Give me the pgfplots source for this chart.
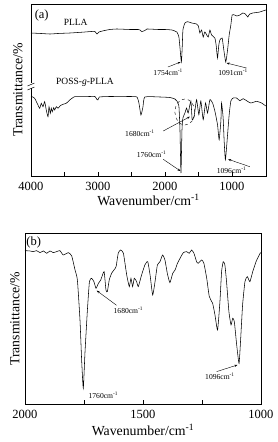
\documentclass[border=0pt]{standalone}
\usepackage{pgfplots}
\pgfplotsset{compat=1.18}
\usepackage{fontspec}
\setmainfont{Liberation Serif}
\usetikzlibrary{arrows.meta}
\tikzset{
  ann/.style={font=\fontsize{7.6}{9}\selectfont, inner sep=0pt},
  arr/.style={-{Stealth[length=3pt,width=2.2pt]}, line width=0.4pt},
}
\newcommand{\tkfont}{\fontsize{12.5}{14}\selectfont}
\newcommand{\lbfont}{\fontsize{13.8}{16}\selectfont}
\begin{document}
\begin{tikzpicture}
\useasboundingbox (0,0) rectangle (278pt,442pt);
\pgfplotsset{
  ftir/.style={
    scale only axis, x dir=reverse, clip=false,
    axis line style={line width=0.6pt},
    ytick=\empty, xtick pos=bottom,
    tick style={line width=0.5pt, black},
    major tick length=4pt, minor tick length=4pt,
    minor x tick num=1,
    /pgf/number format/assume math mode=true,
    /pgf/number format/set thousands separator={},
    tick label style={font=\tkfont},
  },
  curve/.style={black, line width=0.55pt, mark=none, smooth, tension=0.3},
}
% ---------- panel (a) ----------
\begin{axis}[ftir,
  at={(31pt,266pt)}, anchor=south west,
  width=235pt, height=172pt,
  xmin=490, xmax=4000, ymin=-176, ymax=-4,
  xtick={4000,3000,2000,1000},
  xticklabel style={yshift=-3pt},
  xlabel={\lbfont Wavenumber/cm\textsuperscript{-1}},
  ylabel={\lbfont Transmittance/\%},
  every axis x label/.style={at={(axis description cs:0.5,-0.14)},anchor=center},
  every axis y label/.style={at={(axis description cs:-0.0553,0.5)},rotate=90,anchor=center},
]
\addplot[curve] coordinates {
(4000,-33) (3850,-33.5) (3716,-34) (3600,-33.5) (3418,-33) (3300,-32.5) (3194,-32)
(3100,-31.5) (3045,-31.5) (3015,-34) (2985,-32) (2900,-30.5) (2821,-29.5) (2716,-29)
(2522,-29.5) (2400,-29.5) (2373,-30) (2343,-31.7) (2320,-31) (2299,-30.5) (2269,-29)
(2100,-29.5) (2000,-29.5) (1896,-30) (1821,-32) (1791,-37) (1776,-47) (1754,-62)
(1740,-45) (1731,-30) (1701,-23) (1660,-21.7) (1600,-23) (1527,-24) (1500,-26)
(1478,-33) (1452,-30) (1428,-37) (1403,-32) (1354,-37) (1328,-30) (1303,-35)
(1254,-38) (1235,-45) (1214,-58) (1195,-45) (1179,-40) (1145,-38) (1120,-50)
(1091,-62) (1064,-50) (1040,-35) (1015,-25) (996,-15) (960,-15) (925,-16)
(880,-15) (836,-13) (806,-13.5) (775,-16) (761,-17) (745,-15) (731,-14)
(687,-13) (627,-12.5) (582,-12) (537,-11) (493,-10)
};
\addplot[curve] coordinates {
(4000,-97) (3985,-96.7) (3945,-98.3) (3896,-105) (3870,-108.3) (3846,-103.3) (3821,-106.7)
(3796,-101.7) (3772,-110) (3746,-116.7) (3731,-106.7) (3712,-113.3) (3697,-108.3)
(3682,-111.7) (3661,-107.7) (3646,-110) (3622,-106.7) (3597,-108.3) (3563,-105.7)
(3522,-104.3) (3473,-103.3) (3422,-100) (3388,-98.3) (3348,-96.7) (3249,-96.7)
(3119,-96.5) (3045,-96.5) (3015,-99.5) (3000,-100) (2978,-97) (2821,-96.5)
(2522,-96.5) (2418,-97) (2388,-103) (2358,-115) (2328,-107) (2299,-97) (2075,-97)
(1925,-97.5) (1851,-99) (1821,-101) (1791,-106) (1775,-130) (1760,-173) (1745,-130)
(1731,-118) (1701,-113) (1676,-108) (1652,-113) (1612,-101) (1593,-119.7) (1563,-116)
(1527,-99.7) (1493,-114.7) (1463,-101) (1428,-119.7) (1393,-103) (1363,-113)
(1328,-99.7) (1288,-103) (1254,-111) (1214,-124.7) (1190,-139.7) (1164,-121)
(1154,-103) (1130,-118) (1115,-141) (1096,-159.7) (1064,-134.7) (1040,-114.7)
(1015,-101) (980,-98) (930,-98) (881,-100.7) (831,-98.7) (766,-101.3) (716,-103)
(630,-101.3) (557,-103) (493,-106)
};
\node[font=\fontsize{12.5}{14}\selectfont, inner sep=0pt] at (axis cs:3840,-15) {(a)};
\node[font=\fontsize{9.5}{11}\selectfont, inner sep=0pt] at (axis cs:3333,-22) {PLLA};
\node[font=\fontsize{9.5}{11}\selectfont, inner sep=0pt] at (axis cs:3194,-82) {POSS-\textit{g}-PLLA};
\node[ann] at (axis cs:1951,-72) {1754cm\textsuperscript{-1}};
\draw[arr] (axis cs:1955,-67) -- (axis cs:1765,-62);
\node[ann] at (axis cs:981,-72) {1091cm\textsuperscript{-1}};
\draw[arr] (axis cs:781,-68) -- (axis cs:1079,-63);
\node[ann] at (axis cs:2373,-133) {1680cm\textsuperscript{-1}};
\draw[arr] (axis cs:2025,-131) -- (axis cs:1627,-116.7);
\draw[dashed, line width=0.4pt] (axis cs:1702,-112) ellipse [x radius=10pt, y radius=13pt];
\node[ann] at (axis cs:2199,-154) {1760cm\textsuperscript{-1}};
\draw[arr] (axis cs:2025,-159.3) -- (axis cs:1768,-171);
\node[ann] at (axis cs:1005,-170) {1096cm\textsuperscript{-1}};
\draw[arr] (axis cs:731,-166.7) -- (axis cs:1055,-159.3);
% axis break mark
\fill[white] (axis cs:4000,-88.5) rectangle ++(1pt,5pt);
\fill[white] (axis cs:4000,-88.5) rectangle ++(-1pt,5pt);
\draw[line width=0.5pt] (axis cs:4000,-88.5) ++(-3.5pt,-1.5pt) -- ++(7pt,3pt);
\draw[line width=0.5pt] (axis cs:4000,-84.5) ++(-3.5pt,-1.5pt) -- ++(7pt,3pt);
\end{axis}
% ---------- panel (b) ----------
\begin{axis}[ftir,
  at={(25pt,37.7pt)}, anchor=south west,
  width=236pt, height=171pt,
  xmin=1000, xmax=2000, ymin=-553, ymax=-40,
  xtick={2000,1500,1000},
  xticklabel style={yshift=-2pt},
  xlabel={\lbfont Wavenumber/cm\textsuperscript{-1}},
  ylabel={\lbfont Transmittance/\%},
  every axis x label/.style={at={(axis description cs:0.5,-0.15)},anchor=center},
  every axis y label/.style={at={(axis description cs:-0.0424,0.5)},rotate=90,anchor=center},
]
\addplot[curve] coordinates {
(2000,-92) (1979,-93) (1965,-95) (1951,-92) (1936,-98) (1922,-93) (1908,-100)
(1894,-93) (1880,-98) (1866,-95) (1852,-92) (1838,-105) (1816,-98) (1802,-108)
(1788,-150) (1778,-180) (1767,-300) (1760,-420) (1753,-505) (1746,-400) (1736,-275)
(1727,-185) (1718,-175) (1708,-185) (1699,-205) (1689,-190) (1679,-180) (1665,-155)
(1657,-210) (1651,-215) (1643,-180) (1633,-160) (1623,-150) (1614,-140) (1605,-100)
(1595,-90) (1583,-100) (1569,-165) (1558,-200) (1551,-175) (1544,-200) (1537,-175)
(1527,-185) (1520,-200) (1506,-165) (1492,-135) (1480,-125) (1470,-165) (1459,-225)
(1449,-185) (1439,-135) (1428,-125) (1417,-105) (1407,-120) (1397,-160) (1386,-188)
(1374,-160) (1364,-150) (1354,-130) (1343,-115) (1329,-98) (1315,-95) (1304,-100)
(1294,-90) (1284,-100) (1273,-125) (1266,-130) (1251,-120) (1242,-130) (1230,-175)
(1219,-230) (1205,-250) (1195,-285) (1184,-330) (1174,-245) (1167,-155) (1160,-125)
(1153,-135) (1146,-185) (1136,-275) (1127,-315) (1120,-295) (1113,-305) (1103,-375)
(1093,-430) (1086,-355) (1078,-255) (1068,-185) (1058,-170) (1047,-185) (1035,-155)
(1021,-125) (1004,-100) (1001,-98)
};
\node[font=\fontsize{12.5}{14}\selectfont, inner sep=0pt] at (axis cs:1963,-67) {(b)};
\node[ann] at (axis cs:1562,-270) {1680cm\textsuperscript{-1}};
\draw[arr] (axis cs:1612,-256) -- (axis cs:1696,-212);
\node[ann] at (axis cs:1668,-525) {1760cm\textsuperscript{-1}};
\node[ann] at (axis cs:1174,-470) {1096cm\textsuperscript{-1}};
\draw[arr] (axis cs:1188,-455) -- (axis cs:1100,-435);
\end{axis}
\end{tikzpicture}
\end{document}
